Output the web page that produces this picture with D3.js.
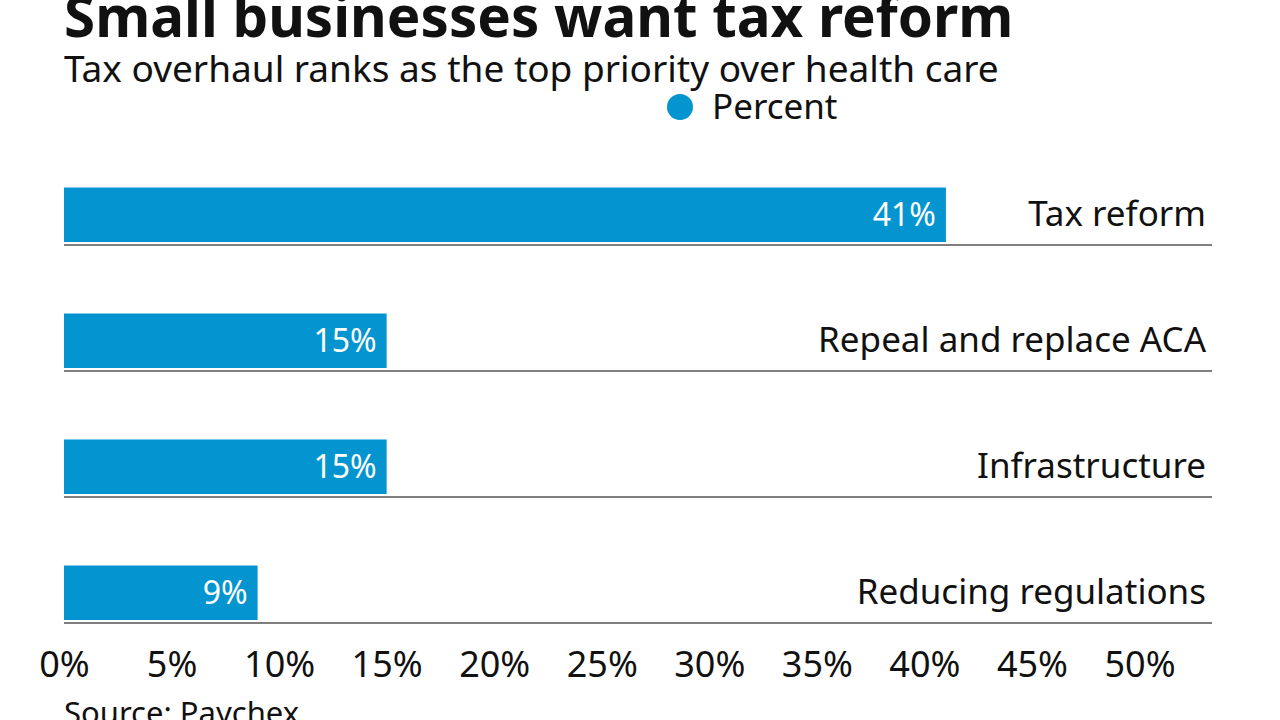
<!DOCTYPE html>
<html>
<head>
<meta charset="utf-8">
<script src="https://cdn.jsdelivr.net/npm/d3@7"></script>
<style>
  body { margin: 0; background: #fff; }
  svg { display: block; font-family: "Noto Sans", "Lato", sans-serif; }
</style>
</head>
<body>
<svg width="1280" height="720"></svg>
<script>
// data
var categories = ["Tax reform", "Repeal and replace ACA", "Infrastructure", "Reducing regulations"];
var values = [41, 15, 15, 9];
var tickValues = [0, 5, 10, 15, 20, 25, 30, 35, 40, 45, 50];
var seriesName = "Percent";

var svg = d3.select("svg"),
    width = +svg.attr("width"),
    height = +svg.attr("height"),
    blue = "#0494d0";

var rows = categories.map(function(c, i) { return { name: c, value: values[i] }; });

// x: 0% sits at 64, 50% at ~1139
var x = d3.scaleLinear().domain([0, 53.37]).range([64, 1212]);
// rows are 126px apart, bars ~54px tall
var y = d3.scaleBand().domain(categories)
    .range([187.5, 187.5 + 126 * (categories.length - 0.5675)])
    .paddingInner(0.5675).paddingOuter(0);

// title + subtitle
svg.append("text").attr("x", 64).attr("y", 37)
   .attr("font-size", 56.5).attr("font-weight", 700).attr("fill", "#111")
   .text("Small businesses want tax reform");
svg.append("text").attr("x", 64).attr("y", 82)
   .attr("font-size", 37).attr("fill", "#111")
   .text("Tax overhaul ranks as the top priority over health care");

// legend
svg.append("circle").attr("cx", 680).attr("cy", 107).attr("r", 13).attr("fill", blue);
svg.append("text").attr("x", 712).attr("y", 119)
   .attr("font-size", 35).attr("fill", "#111").text(seriesName);

var row = svg.selectAll("g.row").data(rows).enter().append("g").attr("class", "row");

row.append("rect")
   .attr("x", x(0))
   .attr("y", function(d) { return y(d.name); })
   .attr("width", function(d) { return x(d.value) - x(0); })
   .attr("height", y.bandwidth())
   .attr("fill", blue);

row.append("line")
   .attr("x1", x(0)).attr("x2", x.range()[1])
   .attr("y1", function(d) { return y(d.name) + y.bandwidth() + 3; })
   .attr("y2", function(d) { return y(d.name) + y.bandwidth() + 3; })
   .attr("stroke", "#555").attr("stroke-width", 1.5);

// value inside the bar end
row.append("text")
   .attr("x", function(d) { return x(d.value) - 10; })
   .attr("y", function(d) { return y(d.name) + 38; })
   .attr("text-anchor", "end")
   .attr("font-size", 32).attr("fill", "#fff")
   .text(function(d) { return d.value + "%"; });

// category label at right
row.append("text")
   .attr("x", 1206)
   .attr("y", function(d) { return y(d.name) + 38; })
   .attr("text-anchor", "end")
   .attr("font-size", 35).attr("fill", "#111")
   .text(function(d) { return d.name; });

// x axis, no domain line or ticks
var axis = svg.append("g")
   .attr("transform", "translate(0,650)")
   .call(d3.axisBottom(x).tickValues(tickValues).tickSize(0)
           .tickFormat(function(d) { return d + "%"; }));
axis.select(".domain").remove();
axis.selectAll("text")
   .attr("y", 27).attr("dy", 0)
   .attr("font-size", 36).attr("font-family", "'Noto Sans', Lato, sans-serif")
   .attr("fill", "#111");

svg.append("text").attr("x", 64).attr("y", 724)
   .attr("font-size", 31).attr("fill", "#111").text("Source: Paychex");
</script>
</body>
</html>
